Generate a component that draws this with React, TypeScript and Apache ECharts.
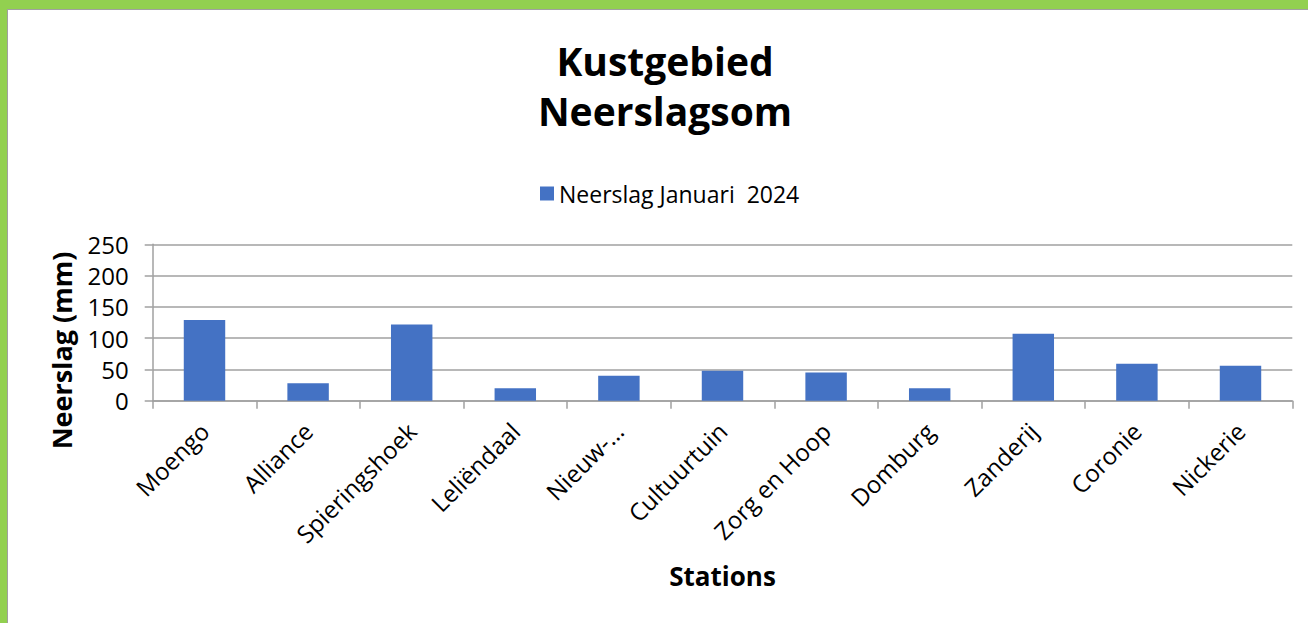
import React, { useEffect, useRef } from "react";
import * as echarts from "echarts";

const titleLines = ["Kustgebied", "Neerslagsom"];
const seriesName = "Neerslag Januari  2024";
const stations = [
  "Moengo",
  "Alliance",
  "Spieringshoek",
  "Leliëndaal",
  "Nieuw-…",
  "Cultuurtuin",
  "Zorg en Hoop",
  "Domburg",
  "Zanderij",
  "Coronie",
  "Nickerie",
];
const rainfall = [129, 28, 122, 20, 40, 48, 45, 20, 107, 59, 56];
const yTicks = [0, 50, 100, 150, 200, 250];
const xAxisName = "Stations";
const yAxisName = "Neerslag (mm)";

const FONT = "'Open Sans', 'Noto Sans', sans-serif";

export default function App() {
  const ref = useRef<HTMLDivElement>(null);
  useEffect(() => {
    document.body.style.margin = "0";
    const chart = echarts.init(ref.current!, null, { renderer: "svg" });
    chart.setOption({
      animation: false,
      backgroundColor: "#ffffff",
      textStyle: { fontFamily: FONT, color: "#000" },
      graphic: [
        { type: "rect", shape: { x: 0, y: 0, width: 1308, height: 9 }, style: { fill: "#92D050" }, silent: true },
        { type: "rect", shape: { x: 0, y: 0, width: 7, height: 623 }, style: { fill: "#92D050" }, silent: true },
        { type: "rect", shape: { x: 7, y: 9, width: 1301, height: 1 }, style: { fill: "#a0a0a0" }, silent: true },
        { type: "rect", shape: { x: 7, y: 9, width: 1, height: 614 }, style: { fill: "#a0a0a0" }, silent: true },
      ],
      title: {
        text: titleLines.join("\n"),
        left: 660,
        top: 30,
        textAlign: "center",
        textStyle: { fontFamily: FONT, fontSize: 39, fontWeight: "bold", color: "#000", lineHeight: 50 },
      },
      legend: {
        top: 177,
        left: 535,
        itemWidth: 14,
        itemHeight: 14,
        itemGap: 7,
        icon: "rect",
        textStyle: { fontFamily: FONT, fontSize: 23, color: "#000" },
        data: [seriesName],
      },
      grid: { left: 152.7, right: 15.7, top: 244.3, bottom: 222.3, containLabel: false },
      xAxis: {
        type: "category",
        data: stations,
        name: xAxisName,
        nameLocation: "middle",
        nameGap: 162,
        nameTextStyle: { fontFamily: FONT, fontSize: 26, fontWeight: "bold", color: "#000" },
        axisLine: { lineStyle: { color: "#a0a0a0", width: 1.5 } },
        axisTick: { show: true, length: 8, lineStyle: { color: "#a0a0a0", width: 1.5 } },
        axisLabel: { rotate: 45, interval: 0, margin: 26, fontFamily: FONT, fontSize: 24, color: "#000" },
      },
      yAxis: {
        type: "value",
        min: 0,
        max: 250,
        interval: 50,
        name: yAxisName,
        nameLocation: "middle",
        nameGap: 78,
        nameTextStyle: { fontFamily: FONT, fontSize: 27, fontWeight: "bold", color: "#000", padding: [0, 56, 0, 0] },
        axisLine: { show: true, lineStyle: { color: "#a0a0a0", width: 1.5 } },
        axisTick: { show: true, length: 8, lineStyle: { color: "#a0a0a0", width: 1.5 } },
        splitLine: { lineStyle: { color: "#a0a0a0", width: 1.5 } },
        axisLabel: {
          margin: 24,
          fontFamily: FONT,
          fontSize: 24,
          color: "#000",
          formatter: (v: number) => (yTicks.includes(v) ? String(v) : ""),
        },
      },
      series: [
        {
          name: seriesName,
          type: "bar",
          data: rainfall,
          barWidth: "40%",
          itemStyle: { color: "#4472C4" },
        },
      ],
    });
    return () => chart.dispose();
  }, []);
  return <div ref={ref} style={{ width: 1308, height: 623, position: "absolute", left: 0, top: 0 }} />;
}
